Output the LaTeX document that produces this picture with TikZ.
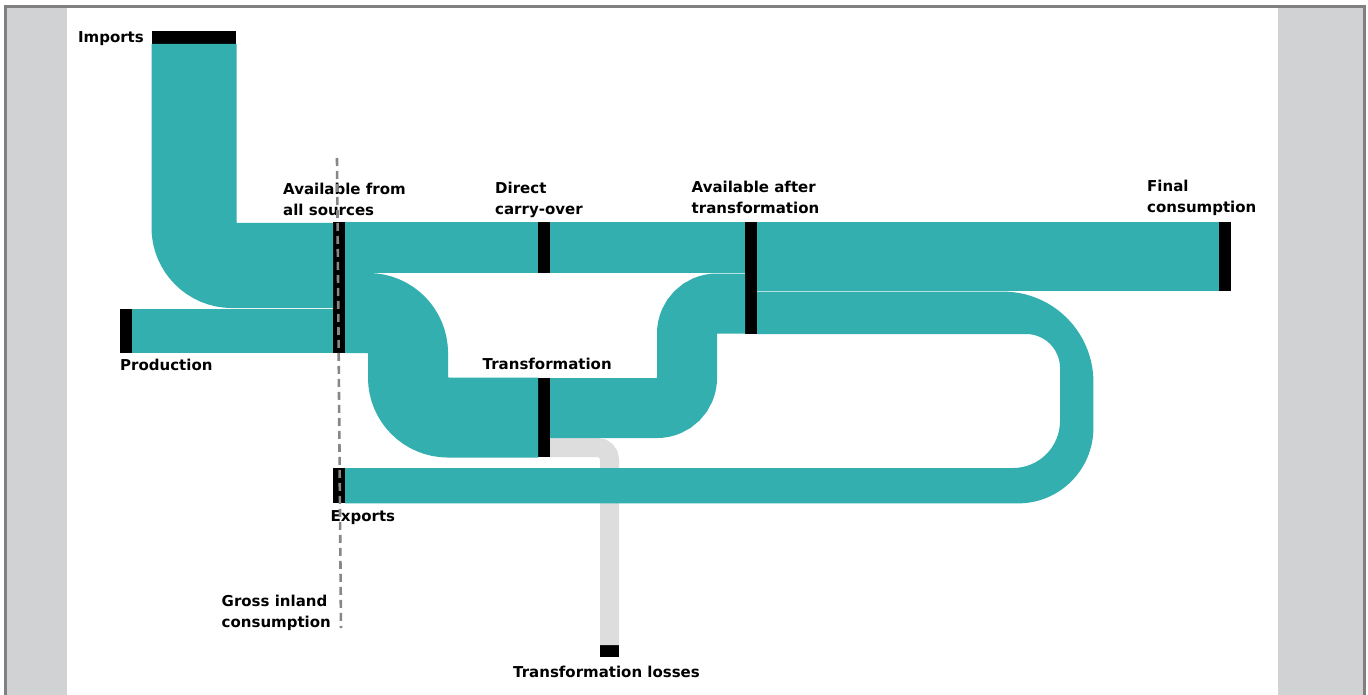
\documentclass[tikz,border=0pt]{standalone}
\usepackage{fontspec}
\setmainfont{DejaVu Sans}
\definecolor{flowteal}{RGB}{51,175,175}
\definecolor{lossgrey}{RGB}{221,221,221}
\definecolor{panelgrey}{RGB}{209,210,212}
\definecolor{rulegrey}{RGB}{128,128,128}
\definecolor{dashgrey}{RGB}{135,135,135}
\newcommand{\lines}[1]{\begin{tabular}[t]{@{}l@{}}#1\end{tabular}}
\begin{document}
\begin{tikzpicture}[x=1pt,y=1pt,yscale=-1,
  bar/.style={fill=black,draw=none,rectangle,inner sep=0pt,outer sep=0pt},
  flow/.style={draw=flowteal,line cap=butt},
  loss/.style={draw=lossgrey,line cap=butt},
  band/.style={fill=flowteal},
  lbl/.style={font=\bfseries\fontsize{15}{20.5}\selectfont,inner sep=0pt,anchor=base west},
  guide/.style={draw=dashgrey,line width=2.6pt,dash pattern=on 8pt off 5pt}]

% page frame
\useasboundingbox (0,0) rectangle (1368,695);
\fill[white] (0,0) rectangle (1368,695);
\fill[panelgrey] (5,7) rectangle (1365,695);
\fill[white] (67,8) rectangle (1278,695);
\draw[rulegrey,line width=3pt] (5.5,695) -- (5.5,7) -- (1364.5,7) -- (1364.5,695);

% flow end bars
\node[bar,minimum width=84,minimum height=13]  (imp)    at (194,37.5) {};
\node[bar,minimum width=12,minimum height=131] (avail)  at (339,287.5) {};
\node[bar,minimum width=12,minimum height=44]  (prod)   at (126,331) {};
\node[bar,minimum width=12,minimum height=51]  (direct) at (544,247.5) {};
\node[bar,minimum width=12,minimum height=79]  (trans)  at (544,417.5) {};
\node[bar,minimum width=12,minimum height=112] (after)  at (751,278) {};
\node[bar,minimum width=12,minimum height=69]  (final)  at (1225,256.5) {};
\node[bar,minimum width=12,minimum height=35]  (exp)    at (339,485.5) {};
\node[bar,minimum width=19,minimum height=12]  (losses) at (609.5,651) {};

% transformation losses (grey, passes under the export band)
\draw[loss,line width=19,rounded corners=12]
  (trans.east |- 0,447.5) -- (609.5,447.5) -- (losses.north);

% imports
\draw[flow,line width=85,rounded corners=38]
  (imp.south) -- (194,265.5) -- (avail.west |- 0,265.5);
% production
\fill[band] (prod.north east) rectangle (avail.west |- prod.south);
% direct carry-over
\fill[band] (avail.north east) rectangle (direct.south west);
\fill[band] (direct.north east) rectangle (after.west |- direct.south);
% into transformation
\draw[flow,line width=80,rounded corners=40]
  (avail.east |- 0,313) -- (408,313) -- (408,417.5) -- (trans.west |- 0,417.5);
% out of transformation
\draw[flow,line width=60,rounded corners=30]
  (trans.east |- 0,408) -- (687,408) -- (687,303.5) -- (after.west |- 0,303.5);
% final consumption
\fill[band] (after.north east) rectangle (final.south west);
% loop back to exports
\fill[band] (after.east |- 0,291.6) -- (1003,291.6) arc (270:360:90.4)
  -- (1093.4,428) arc (0:90:75.4)
  -- (exp.east |- 0,503.4) -- (exp.east |- 0,468)
  -- (1013,468) arc (90:0:47)
  -- (1060,368) arc (0:-90:34)
  -- (after.south east) -- cycle;

% labels
\node[lbl,anchor=base east] (timp) at (144,43) {Imports};
\node[lbl] (tavail)  at (283,195) {\lines{Available from\\all sources}};
\node[lbl] (tdirect) at (495,194) {\lines{Direct\\carry-over}};
\node[lbl] (tafter)  at (691.5,193) {\lines{Available after\\transformation}};
\node[lbl] (tfinal)  at (1147,192) {\lines{Final\\consumption}};
\node[lbl] (tprod)   at (120,370) {Production};
\node[lbl] (ttrans)  at (482.5,369) {Transformation};
\node[lbl] (texp)    at (330.5,521.5) {Exports};
\node[lbl] (tgross)  at (221.5,606.5) {\lines{Gross inland\\consumption}};
\node[lbl] (tloss)   at (513,677) {Transformation losses};

% gross inland consumption marker
\coordinate (gtop) at (337,158);
\coordinate (gbot) at (341,628);
\draw[guide] (gtop) -- (gbot);
\end{tikzpicture}
\end{document}
